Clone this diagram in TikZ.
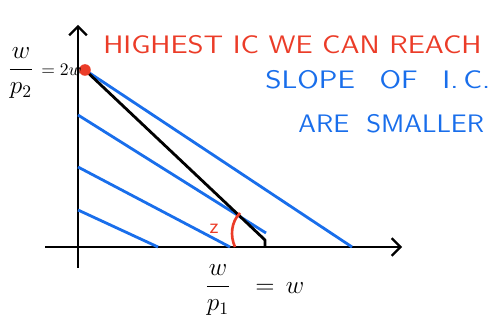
\documentclass[tikz,border=0pt]{standalone}
\usepackage{amsmath}
\usepackage{graphicx}
\usetikzlibrary{arrows.meta}
\definecolor{penred}{RGB}{235,60,40}
\definecolor{penblue}{RGB}{25,110,235}
\tikzset{
  axis/.style={line width=1.5pt, -{Straight Barb[length=5pt,width=10pt,line width=1.3pt]}},
  icline/.style={penblue, line width=1.6pt},
  budget/.style={line width=1.6pt, line join=round},
  note/.style={font=\sffamily\Large, inner sep=0pt, anchor=west}
}
\begin{document}
\begin{tikzpicture}[x=0.02cm,y=-0.02cm]
  \useasboundingbox (0,0) rectangle (493,320);
  % axes
  \coordinate (xl) at (45,247);
  \coordinate (xr) at (402,247);
  \coordinate (yb) at (78,268);
  \coordinate (yt) at (78,25);
  \draw[axis] (xl) -- (xr);
  \draw[axis] (yb) -- (yt);
  % indifference curves
  \coordinate (top) at (85,70);
  \foreach \n/\ax/\ay/\bx/\by in {1/85/70/352/247, 2/78/115/266/233, 3/78/167/230/247, 4/78/210/158/247} {
    \coordinate (ic\n a) at (\ax,\ay);
    \coordinate (ic\n b) at (\bx,\by);
    \draw[icline] (ic\n a) -- (ic\n b);
  }
  % budget line
  \coordinate (bend) at (265,240);
  \coordinate (bfoot) at (265,247);
  \draw[budget] (top) -- (bend) -- (bfoot);
  % angle z
  \coordinate (zs) at (240,213);
  \coordinate (ze) at (235,247);
  \draw[penred, line width=1.5pt] (zs) .. controls (231,222) and (230,236) .. (ze);
  \node[penred, font=\sffamily\large] (zlab) at (214,229) {z};
  % highest point
  \fill[penred] (top) circle[radius=3.3pt];
  % intercept labels
  \node[font=\Large] (wp2) at (21,73) {$\dfrac{w}{p_2}$};
  \node[anchor=west, inner sep=0pt] (wp2v) at (41,70) {$=2w$};
  \node[font=\Large] (wp1) at (218,290) {$\dfrac{w}{p_1}$};
  \node[anchor=west, inner sep=0pt, font=\Large] (wp1v) at (255,288) {$=\,w$};
  % notes
  \node[note, penred] (high) at (103,45) {\scalebox{1.16}[1]{HIGHEST IC WE CAN REACH}};
  \node[note, penblue] (slope) at (265,80) {\scalebox{1.18}[1]{SLOPE\hspace{0.5em} OF\hspace{0.5em} I.\,C.}};
  \node[note, penblue] (are) at (298,124) {\scalebox{1.08}[1]{ARE\hspace{0.3em} SMALLER}};
\end{tikzpicture}
\end{document}
